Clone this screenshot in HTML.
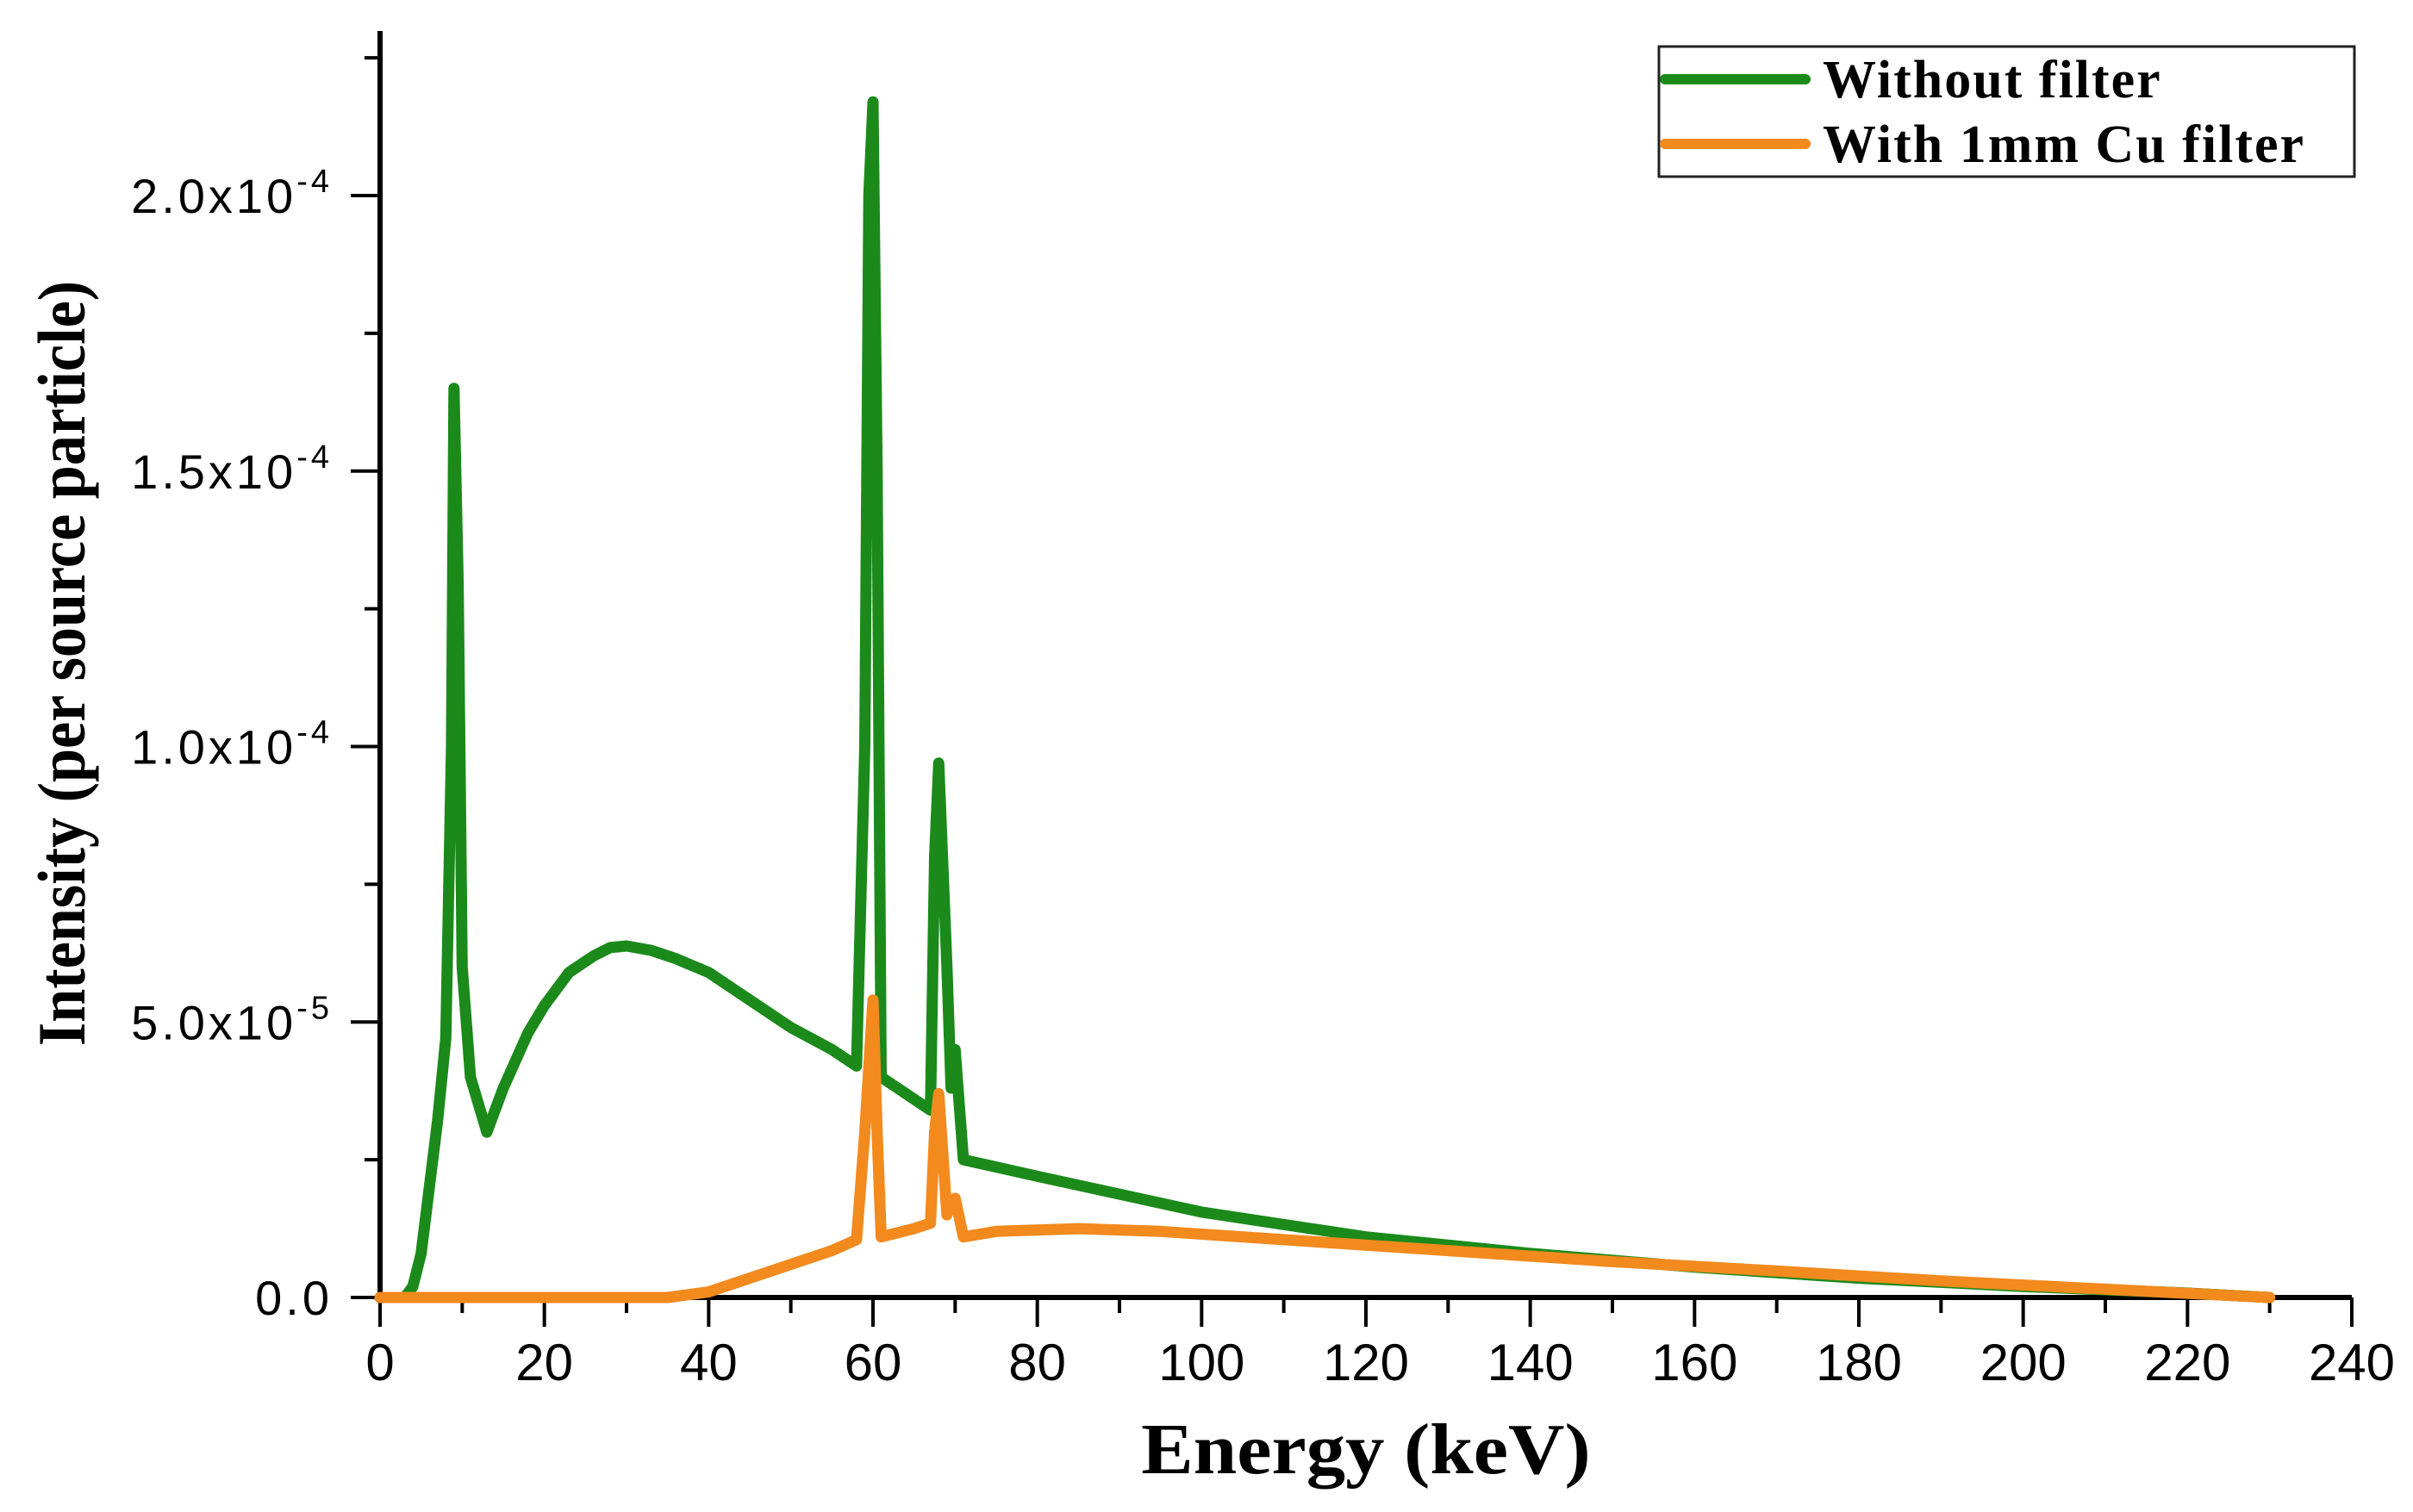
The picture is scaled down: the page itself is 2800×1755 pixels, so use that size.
<!DOCTYPE html>
<html><head><meta charset="utf-8"><style>
html,body{margin:0;padding:0;background:#fff;}
svg{display:block;}
</style></head><body>
<svg id="chart" width="2800" height="1755" xmlns="http://www.w3.org/2000/svg">
<g id="axes"></g>
<g id="series"></g>
<text x="1585" y="1710" text-anchor="middle" font-family="Liberation Serif, serif" font-weight="bold" font-size="84" transform="translate(1585,0) scale(1.08,1) translate(-1585,0)">Energy (keV)</text>
<text x="0" y="0" text-anchor="middle" font-family="Liberation Serif, serif" font-weight="bold" font-size="78" transform="translate(98,770) rotate(-90) scale(0.9,1)">Intensity (per source particle)</text>
<g>
<rect x="1925" y="54" width="807" height="151" fill="#fff" stroke="#222" stroke-width="3"/>
<line x1="1932" y1="92" x2="2095" y2="92" stroke="#1b8a1b" stroke-width="12" stroke-linecap="round"/>
<text x="2115" y="113" font-family="Liberation Serif, serif" font-weight="bold" font-size="62" letter-spacing="2">Without filter</text>
<line x1="1932" y1="167" x2="2095" y2="167" stroke="#f28a1e" stroke-width="12" stroke-linecap="round"/>
<text x="2115" y="188" font-family="Liberation Serif, serif" font-weight="bold" font-size="62" letter-spacing="2">With 1mm Cu filter</text>
</g>
</svg>
<script>
const energyGreen = [0,3,4,5,6,7,8,8.7,9,9.5,10,11,13,15,18,20,23,26,28,30,33,36,40,45,50,55,58,59,59.5,60,60.5,61,65,67,67.5,68,69,69.5,70,70.5,71,80,100,120,140,160,180,200,220,230];
const withoutFilter = [0,0,0.2,0.8,2,3.2,4.7,10,16.5,13,6,4,3.0,3.8,4.8,5.3,5.9,6.2,6.35,6.38,6.3,6.15,5.9,5.4,4.9,4.5,4.2,10,20,21.7,15,4.0,3.6,3.4,8,9.7,6,3.8,4.5,3.5,2.5,2.2,1.55,1.1,0.8,0.55,0.35,0.2,0.08,0];
const energyOrange = [0,35,40,45,50,55,58,59,60,60.5,61,65,67,67.5,68,69,70,71,75,85,95,110,130,150,170,190,210,230];
const withCuFilter = [0,0,0.1,0.35,0.6,0.85,1.05,3,5.4,3,1.1,1.25,1.35,3,3.7,1.5,1.8,1.1,1.2,1.25,1.2,1.05,0.85,0.65,0.48,0.3,0.15,0];
const xTicks = [0,20,40,60,80,100,120,140,160,180,200,220,240];
const yTickMantissa = ["0.0","5.0","1.0","1.5","2.0"];
const yTickExp = ["","-5","-4","-4","-4"];
const yTickValues = [0,5,10,15,20]; // units of 1e-5

const NS="http://www.w3.org/2000/svg";
const X0=441, X1=2729, Y0=1506, PER=63.95;
const xs = e => X0 + e*(X1-X0)/240;
const ys = v => Y0 - v*PER;
const axes=document.getElementById('axes');
function mk(tag,attrs,parent){const el=document.createElementNS(NS,tag);for(const k in attrs)el.setAttribute(k,attrs[k]);parent.appendChild(el);return el;}

let l=mk('line',{x1:X0,y1:Y0,x2:X1,y2:Y0,stroke:'#000','stroke-width':6},axes);


l=mk('line',{x1:X0,y1:Y0+3,x2:X0,y2:36,stroke:'#000','stroke-width':6},axes);



for(let e=0;e<=240;e+=10){
  const major=e%20===0;
  const t=mk('line',{x1:xs(e),y1:Y0,x2:xs(e),y2:Y0+(major?34:18),stroke:'#000','stroke-width':4},axes);
  
  
}
xTicks.forEach(e=>{
  const t=mk('text',{x:xs(e),y:1602,'text-anchor':'middle','font-family':'Liberation Sans, sans-serif','font-size':60},axes);
  t.textContent=String(e);
  
  
});
for(let v=0;v<=22.5;v+=2.5){
  const major=v%5===0;
  const t=mk('line',{x1:X0,y1:ys(v),x2:X0-(major?34:18),y2:ys(v),stroke:'#000','stroke-width':4},axes);
  
  
}
yTickValues.forEach((v,i)=>{
  const t=mk('text',{x:386,y:ys(v)+20,'text-anchor':'end','font-family':'Liberation Sans, sans-serif','font-size':56,'letter-spacing':4},axes);
  
  
  if(yTickExp[i]===''){t.textContent=yTickMantissa[i];}
  else{
    const a=mk('tspan',{},t);a.textContent=yTickMantissa[i]+'x10';
    const b=mk('tspan',{dy:-24,'font-size':38},t);b.textContent=yTickExp[i];
  }
});

const ser=document.getElementById('series');
function path(E,V,color,name){
  const d=E.map((e,i)=>(i?'L':'M')+xs(e).toFixed(1)+','+ys(V[i]).toFixed(1)).join('');
  const p=mk('path',{d:d,fill:'none',stroke:color,'stroke-width':13,'stroke-linejoin':'round','stroke-linecap':'round'},ser);
  
  
}
path(energyGreen,withoutFilter,'#1b8a1b','line-without-filter');
path(energyOrange,withCuFilter,'#f28a1e','line-cu-filter');
</script>
</body></html>
